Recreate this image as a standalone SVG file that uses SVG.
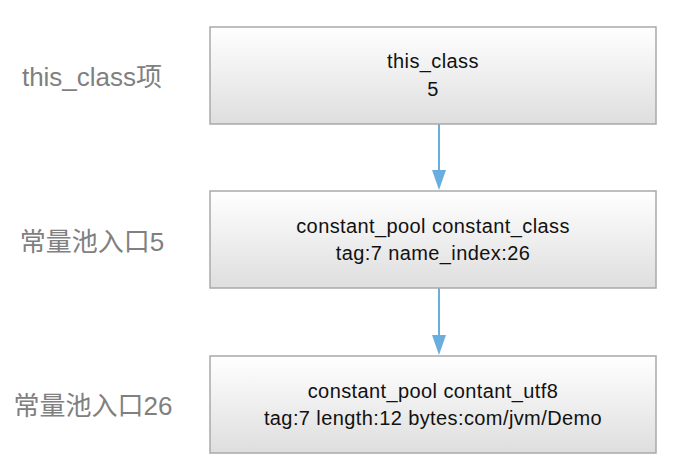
<svg xmlns="http://www.w3.org/2000/svg" width="678" height="468" viewBox="0 0 678 468">
<defs>
<linearGradient id="g" x1="0" y1="0" x2="0" y2="1">
<stop offset="0" stop-color="#ffffff"/>
<stop offset="1" stop-color="#dedede"/>
</linearGradient>
<style>
.box{fill:url(#g);stroke:#a9a9a9;stroke-width:1.5}
.t{font-family:"Liberation Sans","Noto Sans CJK SC",sans-serif;font-size:20px;letter-spacing:0.4px;fill:#111;text-anchor:middle}
.lbl{font-family:"Liberation Sans","Noto Sans CJK SC",sans-serif;font-size:26px;fill:#808080;text-anchor:middle}
.c{stroke:#6aaee0;stroke-width:2;fill:none}
.head{fill:#6aaee0}
</style>
</defs>
<rect width="678" height="468" fill="#ffffff"/>
<g id="labels">
<text class="lbl" x="92" y="86">this_class项</text>
<text class="lbl" x="92" y="251">常量池入口5</text>
<text class="lbl" x="93" y="415">常量池入口26</text>
</g>
<g id="connectors">
<line class="c" x1="439" y1="124" x2="439" y2="172"/>
<path class="head" d="M432,170 L446,170 L439,190 Z"/>
<line class="c" x1="439" y1="288" x2="439" y2="337"/>
<path class="head" d="M432,335 L446,335 L439,355 Z"/>
</g>
<g id="node1">
<rect class="box" x="210" y="27" width="446" height="97"/>
<text class="t" x="433" y="68">this_class</text>
<text class="t" x="433" y="96">5</text>
</g>
<g id="node2">
<rect class="box" x="210" y="191" width="446" height="97"/>
<text class="t" x="433" y="233">constant_pool constant_class</text>
<text class="t" x="433" y="260">tag:7 name_index:26</text>
</g>
<g id="node3">
<rect class="box" x="210" y="356" width="446" height="97"/>
<text class="t" x="433" y="398">constant_pool contant_utf8</text>
<text class="t" x="433" y="425">tag:7 length:12 bytes:com/jvm/Demo</text>
</g>
</svg>
